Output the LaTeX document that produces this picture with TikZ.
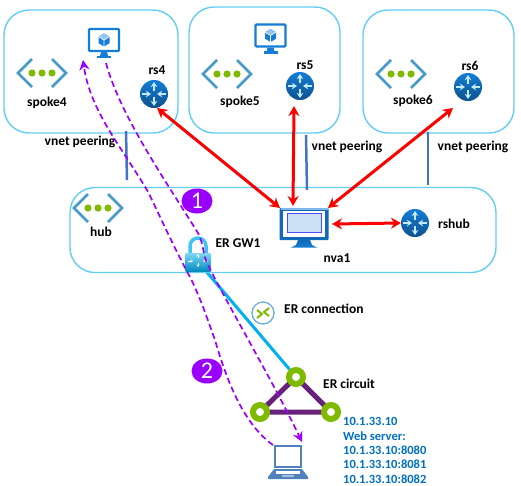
\documentclass[tikz,border=0pt]{standalone}
\usepackage{fontspec}
\setmainfont{Carlito}
\definecolor{boxblue}{RGB}{100, 205, 245}
\definecolor{peerblue}{RGB}{68, 114, 196}
\definecolor{vnetblue}{RGB}{70, 155, 200}
\definecolor{azgreen}{RGB}{127, 186, 0}
\definecolor{vmblue}{RGB}{20, 125, 215}
\definecolor{routerlight}{RGB}{195, 235, 250}
\definecolor{arrowred}{RGB}{250, 0, 0}
\definecolor{linkcyan}{RGB}{0, 176, 240}
\definecolor{circuitpurple}{RGB}{104, 33, 122}
\definecolor{flowviolet}{RGB}{153, 0, 255}
\definecolor{ipblue}{RGB}{0, 112, 192}
\definecolor{laptopblue}{RGB}{80, 130, 190}
\usetikzlibrary{shapes, arrows.meta, backgrounds}

\tikzset{
  netbox/.style={draw=boxblue, line width=1.4pt, rounded corners=25pt, inner sep=0pt, outer sep=0pt},
  lbl/.style={font=\fontsize{13.5}{15}\selectfont\bfseries, inner sep=0pt, text=black},
  iplbl/.style={font=\fontsize{12.5}{14}\selectfont\bfseries, inner sep=0pt, text=ipblue, anchor=west},
  holder/.style={inner sep=0pt, outer sep=0pt, minimum width=#1, minimum height=#1},
  roundholder/.style={circle, inner sep=0pt, outer sep=0pt, minimum size=28pt},
  peerline/.style={draw=peerblue, line width=2.5pt},
  redarrow/.style={draw=arrowred, line width=3pt, {Stealth[length=10pt,width=11pt]}-{Stealth[length=10pt,width=11pt]}},
  flowline/.style={draw=flowviolet, line width=1.7pt, dash pattern=on 6pt off 3.5pt, -{Stealth[length=10pt,width=10pt]}},
  badge/.style={ellipse, fill=flowviolet, text=white, minimum width=31pt, minimum height=25pt, inner sep=0pt, font=\fontsize{24}{24}\selectfont},
  erdot/.style={circle, draw=azgreen, fill=white, line width=6pt, minimum size=14pt, inner sep=0pt},
  vnet/.pic={
    \draw[vnetblue, line width=2.6pt] (-10,-14) -- (-24,0) -- (-10,14);
    \draw[vnetblue, line width=2.6pt] (10,-14) -- (24,0) -- (10,14);
    \fill[azgreen] (-10,0) circle (3.6pt);
    \fill[azgreen] (0,0) circle (3.6pt);
    \fill[azgreen] (10,0) circle (3.6pt);
  },
  router/.pic={
    \shade[top color=vmblue, bottom color=vmblue!65!black] (0,0) circle (14pt);
    \draw[routerlight, line width=2pt, -{Stealth[length=5pt,width=6.5pt]}] (0,-3) -- (0,-12);
    \draw[routerlight, line width=2pt, -{Stealth[length=5pt,width=6.5pt]}] (0,3) -- (0,12);
    \draw[routerlight, line width=2pt, -{Stealth[length=5pt,width=6.5pt]}] (-12,0) -- (-3,0);
    \draw[routerlight, line width=2pt, -{Stealth[length=5pt,width=6.5pt]}] (12,0) -- (3,0);
  },
  vmicon/.pic={
    \draw[vmblue, line width=2.4pt, fill=white, rounded corners=1pt] (-15,-11) rectangle (15,11);
    \fill[vmblue] (-3,12) -- (3,12) -- (4,16) -- (-4,16) -- cycle;
    \fill[vmblue] (-7,15.5) rectangle (7,18);
    \fill[vmblue] (0,-6.5) -- (5.5,-3.2) -- (5.5,3.2) -- (0,6.5) -- (-5.5,3.2) -- (-5.5,-3.2) -- cycle;
    \fill[vmblue!45!white] (0,-6.5) -- (5.5,-3.2) -- (0,0) -- (-5.5,-3.2) -- cycle;
    \draw[white, line width=0.6pt] (-5.5,-3.2) -- (0,0) -- (5.5,-3.2) (0,0) -- (0,6.5);
  },
  nvaicon/.pic={
    \fill[vmblue!85!black, rounded corners=1pt] (-24.5,-16) rectangle (24.5,16);
    \fill[white] (-21,-13) rectangle (21,12.5);
    \draw[vmblue!55!white, line width=1.5pt] (-23.5,-15.2) -- (23.5,-15.2);
    \draw[blue!70!white, fill=vmblue!22!white, line width=1pt] (-17,-11) rectangle (17,8);
    \shade[top color=vmblue!85!black, bottom color=vmblue] (-6,16) -- (6,16) -- (8,21) -- (13,23.5) -- (-13,23.5) -- (-8,21) -- cycle;
  },
  lockicon/.pic={
    \draw[linkcyan!75!white, line width=3.5pt] (-8,0) -- (-8,-8) arc[start angle=180, end angle=0, radius=8pt] -- (8,0);
    \shade[top color=linkcyan!50!white, bottom color=linkcyan!80!black] (-12.5,-1) rectangle (12.5,17);
    \draw[white, line width=1pt, -{Stealth[length=2.5pt,width=3pt]}] (0,3.5) -- (0,0);
    \draw[white, line width=1pt, -{Stealth[length=2.5pt,width=3pt]}] (0,9) -- (0,13);
    \draw[white, line width=1pt, -{Stealth[length=2.5pt,width=3pt]}] (-10,7) -- (-5,7);
    \draw[white, line width=1pt, -{Stealth[length=2.5pt,width=3pt]}] (10,7) -- (5,7);
  },
  connicon/.pic={
    \draw[vnetblue!80!white, line width=1.3pt, fill=white] (0,0) circle (11pt);
    \draw[azgreen, line width=2pt] (-6,-3) -- (-1,1) -- (-6,5);
    \draw[azgreen, line width=2pt] (6,-5) -- (1,-1) -- (6,3);
  },
  laptop/.pic={
    \draw[laptopblue, line width=2pt, fill=white] (-13,-16) rectangle (13,5);
    \fill[laptopblue] (-14,7) -- (14,7) -- (20,15) -- (20,17) -- (-20,17) -- (-20,15) -- cycle;
    \fill[white] (-12,9) rectangle (12,12);
    \fill[laptopblue!50!white] (-6,13) rectangle (6,15);
  }
}

\begin{document}
\begin{tikzpicture}[x=1pt, y=-1pt]
  \useasboundingbox (0,0) rectangle (521,485);

  % spokes and hub
  \node[netbox, minimum width=174pt, minimum height=123pt] (spoke4box) at (91,71.5) {};
  \node[netbox, minimum width=151pt, minimum height=126pt] (spoke5box) at (264.5,70) {};
  \node[netbox, minimum width=151pt, minimum height=123pt] (spoke6box) at (438.5,71.5) {};
  \node[netbox, minimum width=426pt, minimum height=85pt] (hubbox) at (283,230) {};

  % vnet peering lines
  \coordinate (peer4a) at (126,131);
  \coordinate (peer4b) at (127,180);
  \coordinate (peer5a) at (306,135);
  \coordinate (peer5b) at (307,190);
  \coordinate (peer6a) at (428,132);
  \coordinate (peer6b) at (428,185);
  \draw[peerline] (peer4a) -- (peer4b);
  \draw[peerline] (peer5a) -- (peer5b);
  \draw[peerline] (peer6a) -- (peer6b);
  \node[lbl] (peer4lbl) at (80,142) {vnet peering};
  \node[lbl] (peer5lbl) at (347,147) {vnet peering};
  \node[lbl] (peer6lbl) at (473,147) {vnet peering};

  % vnet icons
  \pic at (42,73) {vnet};
  \pic at (227,74) {vnet};
  \pic at (401,74) {vnet};
  \pic at (98,208) {vnet};
  \node[lbl] (spoke4lbl) at (47,103) {spoke4};
  \node[lbl] (spoke5lbl) at (240,102) {spoke5};
  \node[lbl] (spoke6lbl) at (413,101) {spoke6};
  \node[lbl] (hublbl) at (101,232) {hub};

  % routers
  \node[roundholder] (rs4) at (154,94) {};
  \node[roundholder] (rs5) at (300,86) {};
  \node[roundholder] (rs6) at (468,87) {};
  \node[roundholder] (rshub) at (415,223) {};
  \pic at (rs4) {router};
  \pic at (rs5) {router};
  \pic at (rs6) {router};
  \pic at (rshub) {router};
  \node[lbl] (rs4lbl) at (157,70) {rs4};
  \node[lbl] (rs5lbl) at (305,65) {rs5};
  \node[lbl] (rs6lbl) at (470,66) {rs6};
  \node[lbl] (rshublbl) at (454,224) {rshub};

  % VMs and nva
  \node[holder=30pt] (vm4) at (104,40) {};
  \node[holder=30pt] (vm5) at (270.5,35.5) {};
  \pic at (vm4) {vmicon};
  \pic at (vm5) {vmicon};
  \node[inner sep=0pt, outer sep=0pt, minimum width=48pt, minimum height=32pt] (nva) at (304,224) {};
  \pic at (nva) {nvaicon};
  \node[lbl] (nvalbl) at (337,258) {nva1};

  % ER gateway and circuit
  \node[holder=25pt] (ergw) at (198,254) {};
  \pic at (ergw) {lockicon};
  \node[lbl] (ergwlbl) at (238,243) {ER GW1};
  \node[holder=22pt] (erconn) at (263,313) {};
  \pic at (erconn) {connicon};
  \node[lbl, anchor=west] (erconnlbl) at (284,309) {ER connection};
  \node[erdot] (ertop) at (296,377) {};
  \node[erdot] (erleft) at (260,412) {};
  \node[erdot] (erright) at (331,412) {};
  \node[lbl, anchor=west] (ercircuitlbl) at (323,384) {ER circuit};
  \begin{scope}[on background layer]
    \draw[linkcyan, line width=3pt] ([shift={(7,16)}]ergw.center) -- (ertop);
    \draw[circuitpurple, line width=5pt] (ertop.center) -- (erleft.center) -- (erright.center) -- cycle;
  \end{scope}

  % laptop and addresses
  \node[holder=30pt] (client) at (288,462) {};
  \pic at (client) {laptop};
  \node[iplbl] (ip1) at (343,421) {10.1.33.10};
  \node[iplbl] (ip2) at (343,436) {Web server:};
  \node[iplbl] (ip3) at (343,450) {10.1.33.10:8080};
  \node[iplbl] (ip4) at (343,464) {10.1.33.10:8081};
  \node[iplbl] (ip5) at (343,479) {10.1.33.10:8082};

  % red links
  \draw[redarrow] ([shift={(3,14)}]rs4.center) -- (nva.north west);
  \draw[redarrow] ([shift={(-6,20)}]rs5.center) -- ([shift={(-11,-2)}]nva.north);
  \draw[redarrow] ([shift={(-15,21)}]rs6.center) -- (nva.north east);
  \draw[redarrow] ([xshift=4pt]nva.east) -- (rshub.west);

  % traffic flows
  \draw[flowline] (273,445) .. controls (245,425) and (228,385) .. (215,340)
    .. controls (206,315) and (200,297) .. (190,277)
    .. controls (170,240) and (155,205) .. (147,190)
    .. controls (120,145) and (90,110) .. (83,60);
  \draw[flowline] (106,63) .. controls (120,115) and (165,180) .. (198,233)
    .. controls (204,245) and (203,255) .. (207,263)
    .. controls (225,300) and (275,385) .. (302,442);
  \node[badge] (step1) at (197,201) {1};
  \node[badge] (step2) at (207,371) {2};
\end{tikzpicture}
\end{document}
